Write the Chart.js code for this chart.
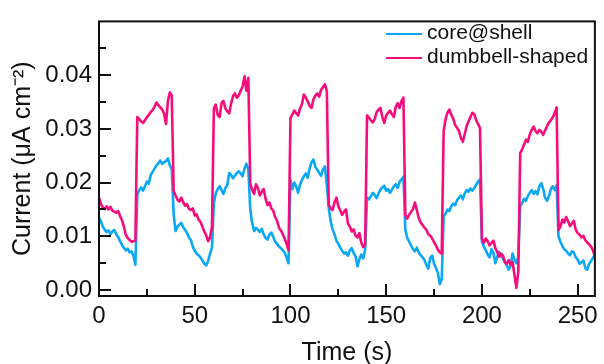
<!DOCTYPE html>
<html>
<head>
<meta charset="utf-8">
<script src="https://cdn.jsdelivr.net/npm/chart.js@4.4.1/dist/chart.umd.min.js"></script>
<style>
  html, body { margin: 0; padding: 0; background: #fff; }
  #wrap { width: 604px; height: 364px; }
</style>
</head>
<body>
<div id="wrap"><canvas id="chart" width="604" height="364"></canvas></div>
<script>
// sampling interval of both traces, in seconds
const timeStep = 1;

const xTickValues = [0, 50, 100, 150, 200, 250];
const xMinorValues = [25, 75, 125, 175, 225];
const yTickValues = [0, 0.01, 0.02, 0.03, 0.04];
const yMinorValues = [0.005, 0.015, 0.025, 0.035, 0.045];

const seriesLabels = ["core@shell", "dumbbell-shaped"];

// core@shell, one value per second from t = 0 s
const coreShell = [
  .0135,.0128,.0118,.0112,.0108,.0111,.0104,.0109,.0112,.0104,.0099,.0091,.0084,.0079,.0074,.0077,.0070,.0072,.0064,.0047,
  .0178,.0186,.0191,.0185,.0193,.0202,.0198,.0214,.0220,.0226,.0232,.0236,.0241,.0235,.0238,.0240,.0245,.0232,.0225,.0140,
  .0110,.0118,.0122,.0125,.0117,.0112,.0106,.0098,.0093,.0081,.0073,.0068,.0065,.0061,.0055,.0049,.0046,.0054,.0068,.0078,
  .0162,.0180,.0188,.0193,.0186,.0179,.0190,.0195,.0218,.0214,.0208,.0213,.0218,.0221,.0217,.0212,.0226,.0235,.0224,.0150,
  .0125,.0110,.0116,.0112,.0108,.0114,.0104,.0097,.0094,.0103,.0107,.0099,.0090,.0086,.0081,.0078,.0074,.0070,.0060,.0050,
  .0205,.0188,.0200,.0193,.0181,.0196,.0205,.0212,.0217,.0209,.0226,.0238,.0243,.0229,.0224,.0218,.0213,.0225,.0230,.0196,
  .0152,.0128,.0113,.0104,.0092,.0086,.0079,.0073,.0068,.0070,.0064,.0074,.0078,.0069,.0063,.0044,.0058,.0066,.0059,.0075,
  .0172,.0169,.0175,.0181,.0177,.0171,.0180,.0187,.0191,.0194,.0185,.0188,.0181,.0187,.0193,.0197,.0190,.0202,.0206,.0211,
  .0112,.0097,.0090,.0083,.0076,.0072,.0079,.0070,.0065,.0061,.0056,.0046,.0040,.0060,.0064,.0049,.0041,.0032,.0011,.0020,
  .0138,.0142,.0150,.0147,.0156,.0161,.0158,.0167,.0172,.0176,.0169,.0180,.0186,.0183,.0189,.0185,.0190,.0196,.0202,.0206,
  .0090,.0081,.0074,.0066,.0061,.0076,.0070,.0050,.0062,.0071,.0064,.0058,.0052,.0046,.0038,.0045,.0068,.0056,.0050,.0062,
  .0156,.0162,.0170,.0166,.0175,.0181,.0186,.0179,.0184,.0178,.0193,.0199,.0188,.0172,.0166,.0175,.0188,.0193,.0186,.0195,
  .0100,.0090,.0082,.0076,.0073,.0068,.0065,.0072,.0070,.0061,.0057,.0049,.0052,.0055,.0041,.0038,.0049,.0054,.0060,.0066
];

// dumbbell-shaped, one value per second from t = 0 s
const dumbbell = [
  .0172,.0160,.0154,.0151,.0156,.0150,.0155,.0148,.0146,.0144,.0147,.0138,.0130,.0118,.0103,.0097,.0093,.0090,.0091,.0092,
  .0322,.0318,.0314,.0311,.0316,.0322,.0326,.0331,.0335,.0341,.0349,.0344,.0340,.0336,.0328,.0309,.0352,.0368,.0362,.0184,
  .0176,.0168,.0165,.0172,.0163,.0157,.0160,.0151,.0149,.0152,.0139,.0141,.0131,.0127,.0118,.0109,.0102,.0091,.0098,.0118,
  .0338,.0345,.0326,.0322,.0348,.0352,.0338,.0333,.0329,.0347,.0361,.0366,.0358,.0362,.0371,.0379,.0398,.0371,.0395,.0198,
  .0186,.0179,.0197,.0190,.0176,.0183,.0188,.0170,.0158,.0163,.0152,.0148,.0136,.0129,.0116,.0111,.0104,.0095,.0086,.0074,
  .0320,.0327,.0334,.0329,.0325,.0338,.0346,.0364,.0358,.0351,.0343,.0339,.0355,.0362,.0366,.0360,.0373,.0378,.0383,.0370,
  .0158,.0152,.0149,.0163,.0172,.0156,.0148,.0140,.0146,.0150,.0124,.0118,.0109,.0113,.0101,.0098,.0106,.0088,.0080,.0085,
  .0325,.0321,.0316,.0312,.0318,.0331,.0336,.0339,.0322,.0311,.0325,.0330,.0334,.0327,.0322,.0341,.0348,.0339,.0352,.0358,
  .0140,.0133,.0140,.0146,.0151,.0163,.0149,.0134,.0126,.0121,.0116,.0112,.0104,.0101,.0096,.0089,.0083,.0075,.0070,.0068,
  .0295,.0318,.0330,.0336,.0326,.0319,.0307,.0302,.0296,.0283,.0276,.0290,.0305,.0314,.0322,.0330,.0327,.0316,.0309,.0301,
  .0095,.0088,.0096,.0091,.0083,.0088,.0092,.0078,.0071,.0062,.0068,.0064,.0052,.0049,.0056,.0047,.0052,.0028,.0004,.0035,
  .0255,.0262,.0271,.0280,.0276,.0290,.0298,.0304,.0296,.0292,.0298,.0295,.0289,.0297,.0305,.0312,.0316,.0322,.0329,.0340,
  .0112,.0118,.0131,.0126,.0136,.0128,.0119,.0124,.0129,.0112,.0106,.0103,.0098,.0101,.0093,.0089,.0085,.0081,.0074,.0062
];

const FONT = "'Liberation Sans', Arial, Helvetica, sans-serif";
const INK = "#111111";
const BLUE = "#0aa8f5";
const PINK = "#f80c7c";

function toPoints(values) {
  return values.map((v, i) => ({ x: i * timeStep, y: v }));
}

// box frame + inward major/minor ticks
const frameTicks = {
  id: "frameTicks",
  afterDatasetsDraw(chart) {
    const { ctx, chartArea: a, scales } = chart;
    ctx.save();
    ctx.strokeStyle = INK;
    ctx.lineWidth = 2;
    ctx.strokeRect(a.left, a.top, a.right - a.left, a.bottom - a.top);
    ctx.beginPath();
    const xMark = (v, len) => {
      const px = Math.round(scales.x.getPixelForValue(v));
      ctx.moveTo(px, a.bottom);
      ctx.lineTo(px, a.bottom - len);
    };
    const yMark = (v, len) => {
      const py = Math.round(scales.y.getPixelForValue(v));
      ctx.moveTo(a.left, py);
      ctx.lineTo(a.left + len, py);
    };
    xTickValues.forEach((v) => xMark(v, 12));
    xMinorValues.forEach((v) => xMark(v, 7));
    yTickValues.forEach((v) => yMark(v, 12));
    yMinorValues.forEach((v) => yMark(v, 7));
    ctx.stroke();
    ctx.restore();
  }
};

const lineLegend = {
  id: "lineLegend",
  afterDraw(chart) {
    const { ctx } = chart;
    const rows = [
      { label: seriesLabels[0], color: BLUE, y: 34 },
      { label: seriesLabels[1], color: PINK, y: 58 }
    ];
    ctx.save();
    ctx.font = "21px " + FONT;
    ctx.textBaseline = "alphabetic";
    ctx.textAlign = "left";
    rows.forEach((r) => {
      ctx.strokeStyle = r.color;
      ctx.lineWidth = 2;
      ctx.beginPath();
      ctx.moveTo(386, r.y);
      ctx.lineTo(422, r.y);
      ctx.stroke();
      ctx.fillStyle = INK;
      ctx.fillText(r.label, 427, r.y + 4.5);
    });
    ctx.restore();
  }
};

new Chart(document.getElementById("chart"), {
  type: "line",
  data: {
    datasets: [
      {
        label: seriesLabels[0],
        data: toPoints(coreShell),
        borderColor: BLUE,
        borderWidth: 2.6,
        pointRadius: 0,
        borderJoinStyle: "round",
        order: 1
      },
      {
        label: seriesLabels[1],
        data: toPoints(dumbbell),
        borderColor: PINK,
        borderWidth: 2.6,
        pointRadius: 0,
        borderJoinStyle: "round",
        order: 0
      }
    ]
  },
  options: {
    responsive: false,
    animation: false,
    layout: { padding: { top: 12, right: 9, left: 0, bottom: 0 } },
    plugins: {
      legend: { display: false },
      tooltip: { enabled: false }
    },
    scales: {
      x: {
        type: "linear",
        min: 0,
        max: 259,
        afterBuildTicks: (s) => { s.ticks = xTickValues.map((v) => ({ value: v })); },
        afterFit: (s) => { s.height = 68; },
        grid: { display: false, drawTicks: false },
        border: { display: false },
        ticks: {
          color: INK,
          padding: 6,
          maxRotation: 0,
          autoSkip: false,
          font: { family: FONT, size: 24 },
          callback: (v) => String(v)
        },
        title: {
          display: true,
          text: "Time (s)",
          color: INK,
          padding: 0,
          font: { family: FONT, size: 25, lineHeight: 0.85 }
        }
      },
      y: {
        type: "linear",
        min: -0.0011,
        max: 0.050,
        afterBuildTicks: (s) => { s.ticks = yTickValues.map((v) => ({ value: v })); },
        afterFit: (s) => { s.width = 99; },
        grid: { display: false, drawTicks: false },
        border: { display: false },
        ticks: {
          color: INK,
          padding: 7,
          autoSkip: false,
          font: { family: FONT, size: 24 },
          callback: (v) => v.toFixed(2)
        },
        title: {
          display: true,
          text: "Current (μA cm⁻²)",
          color: INK,
          padding: { top: 11, bottom: 0 },
          font: { family: FONT, size: 25, lineHeight: 1 }
        }
      }
    }
  },
  plugins: [frameTicks, lineLegend]
});
</script>
</body>
</html>
